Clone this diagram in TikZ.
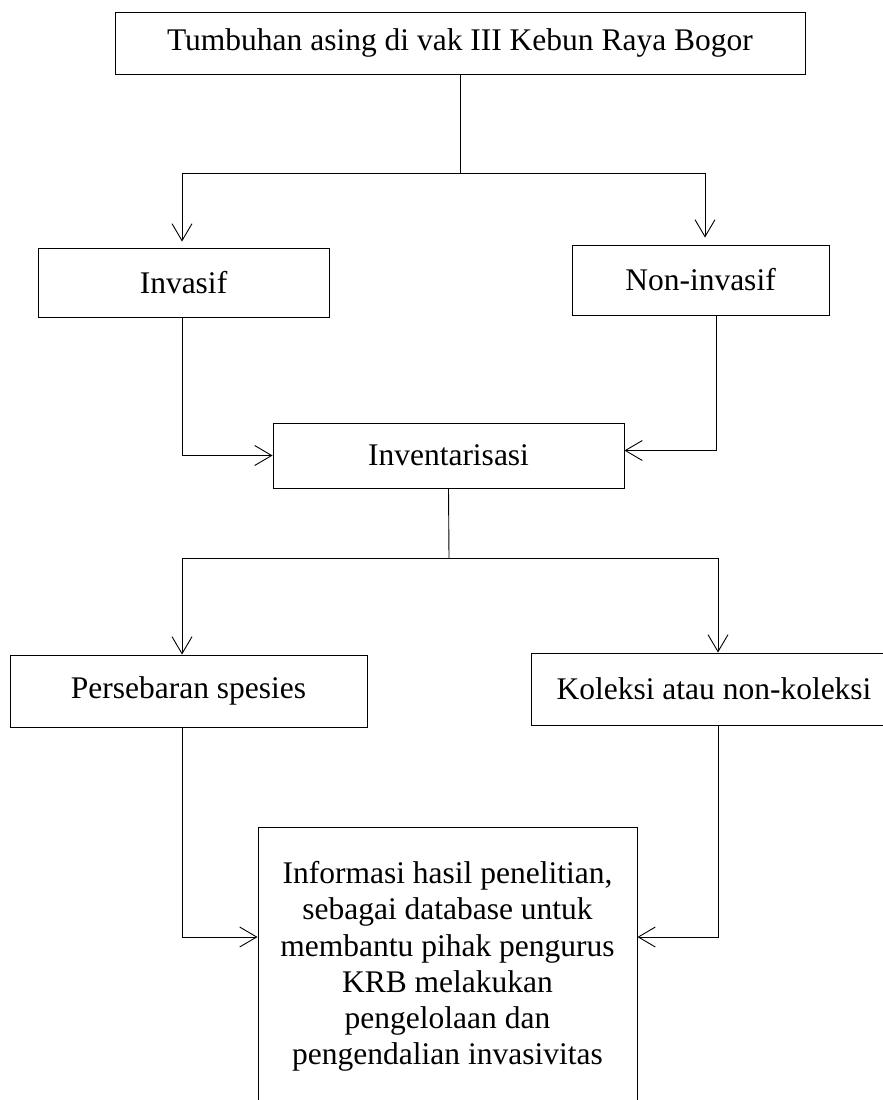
\documentclass[tikz,border=0pt]{standalone}
\usepackage{fontspec}
\setmainfont{Liberation Serif}
\usetikzlibrary{arrows.meta}

\begin{document}
\begin{tikzpicture}[x=1pt,y=-1pt, font=\fontsize{31.5}{36.3}\selectfont, line width=0.9pt,
kotak/.style={draw, inner sep=0pt, align=center},
panah/.style={-{Straight Barb[length=17pt,width=20pt]}}]
\useasboundingbox (0,0) rectangle (883,1100);

\node[kotak, minimum width=690pt, minimum height=62pt] (asing) at (460,43) {Tumbuhan asing di vak III Kebun Raya Bogor};
\node[kotak, minimum width=291pt, minimum height=69pt] (invasif) at (183.5,282.5) {Invasif};
\node[kotak, minimum width=257pt, minimum height=70pt] (noninv) at (700.5,280) {Non-invasif};
\node[kotak, minimum width=351pt, minimum height=65pt] (inventa) at (448.5,455.5) {Inventarisasi};
\node[kotak, minimum width=357pt, minimum height=72pt] (sebaran) at (188.5,691) {Persebaran spesies};
\node[kotak, minimum width=366pt, minimum height=72pt] (koleksi) at (714,689) {Koleksi atau non-koleksi};
\node[kotak, minimum width=379pt, minimum height=279pt] (info) at (447.5,966.5) {Informasi hasil penelitian,\\ sebagai database untuk\\ membantu pihak pengurus\\ KRB melakukan\\ pengelolaan dan\\ pengendalian invasivitas};

\coordinate (cab1) at (460,173);
\coordinate (cab1w) at (182,173);
\coordinate (cab1e) at (705,173);
\draw (asing.south) -- (cab1);
\draw (cab1w) -- (cab1e);
\draw[panah, shorten >=6pt] (cab1w) -- (cab1w |- invasif.north);
\draw[panah, shorten >=7pt] (cab1e) -- (cab1e |- noninv.north);

\draw[panah] (invasif.south -| cab1w) |- (inventa.west);
\draw[panah] ([xshift=15.5pt]noninv.south) |- ([yshift=5pt]inventa.east);

\coordinate (cab2) at (449,558);
\coordinate (cab2w) at (182,558);
\coordinate (cab2e) at (718,558);
\draw (inventa.south) -- (cab2);
\draw (cab2w) -- (cab2e);
\foreach \c/\n in {cab2w/sebaran, cab2e/koleksi}
\draw[panah] (\c) -- (\c |- \n.north);

\draw[panah] (cab2w |- sebaran.south) |- ([yshift=29.5pt]info.west);
\draw[panah] (cab2e |- koleksi.south) |- ([yshift=29.5pt]info.east);

\end{tikzpicture}
\end{document}
